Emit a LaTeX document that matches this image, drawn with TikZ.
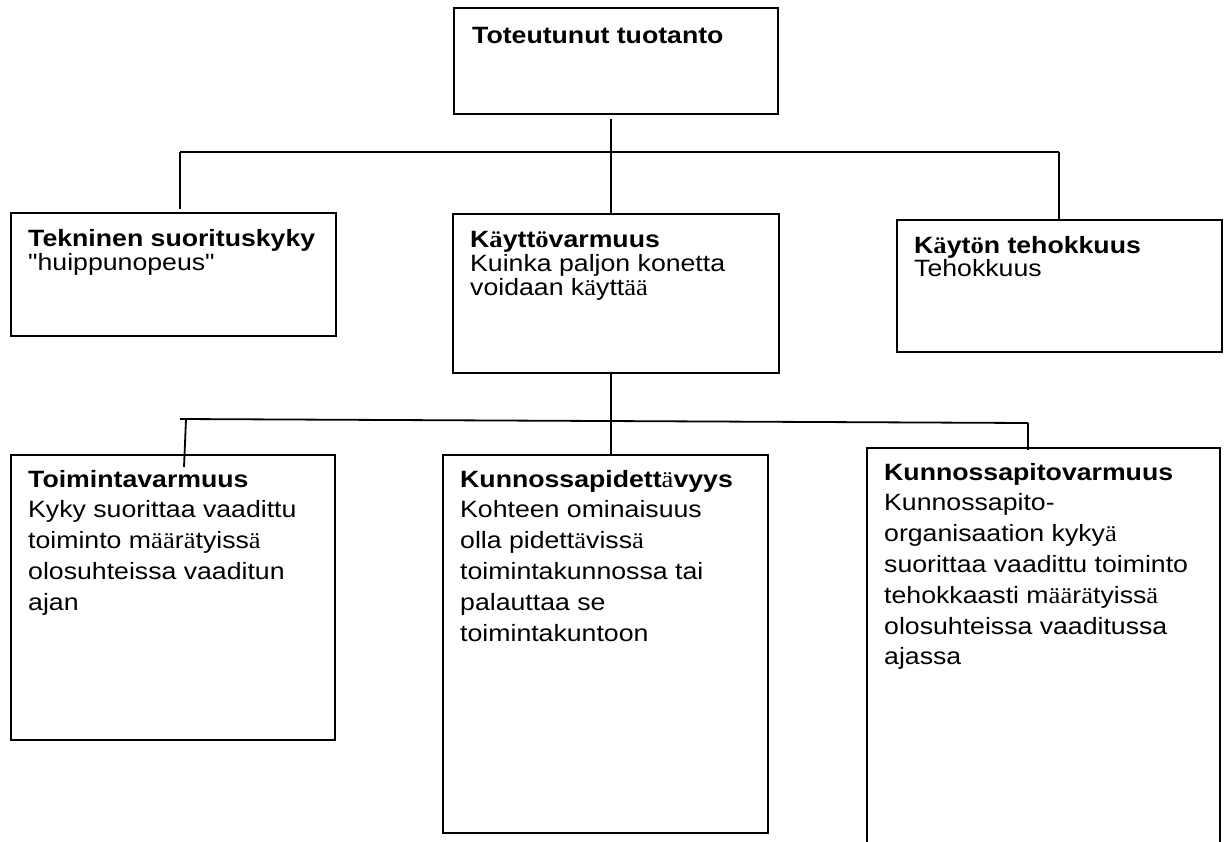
\documentclass[tikz,border=0pt]{standalone}
\usepackage{fontspec}
\setmainfont{Liberation Sans}[Ligatures=TeXOff, FakeStretch=1.13]
\newfontfamily\umlfont{Liberation Serif}[Ligatures=TeXOff, FakeStretch=1.13]
\usetikzlibrary{calc}
% umlaut letters set in the serif face
\newcommand\ua{{\umlfont ä}}
\newcommand\uo{{\umlfont ö}}
\newcommand\uam{{\umlfont\mdseries ä}}
% lines of a box text with a fixed baseline distance; baseline = first line
\newcommand\stacklines[2]{\vtop{\baselineskip=#1\relax\lineskiplimit=-1000pt\lineskip=0pt\halign{##\hfil\cr#2\crcr}}}

\begin{document}
\begin{tikzpicture}[x=1pt,y=-1pt,
  box/.style={draw=black, line width=2.2pt, fill=white, rectangle, inner sep=0pt, anchor=north west},
  txt/.style={inner sep=0pt, anchor=base west, font=\fontsize{23.6}{30}\selectfont},
  link/.style={draw=black, line width=1.8pt}]
\useasboundingbox (0,0) rectangle (1229,841);
\fill[white] (0,0) rectangle (1229,841);
\clip (0,0) rectangle (1229,841);

% boxes
\node[box, minimum width=324pt, minimum height=106pt] (top) at (453,7) {};
\node[box, minimum width=325pt, minimum height=123pt] (tek) at (10,212) {};
\node[box, minimum width=326pt, minimum height=159pt] (kv)  at (452,213) {};
\node[box, minimum width=325pt, minimum height=132pt] (kt)  at (896,219) {};
\node[box, minimum width=324pt, minimum height=285pt] (tv)  at (10,454) {};
\node[box, minimum width=325pt, minimum height=378pt] (kpd) at (442,454) {};
\node[box, minimum width=353pt, minimum height=420pt] (kpv) at (866,447) {};

% texts
\node[txt] (topT) at ($(top.north west)+(19,36)$)
  {\stacklines{24pt}{\bfseries Toteutunut tuotanto}};
\node[txt] (tekT) at ($(tek.north west)+(18,34)$)
  {\stacklines{24pt}{\bfseries Tekninen suorituskyky\cr "huippunopeus"}};
\node[txt] (kvT) at ($(kv.north west)+(18,34)$)
  {\stacklines{24pt}{\bfseries K\ua ytt\uo varmuus\cr Kuinka paljon konetta\cr voidaan k\ua ytt\ua\ua}};
\node[txt] (ktT) at ($(kt.north west)+(18,34)$)
  {\stacklines{23.5pt}{\bfseries K\ua yt\uo n tehokkuus\cr Tehokkuus}};
\node[txt] (tvT) at ($(tv.north west)+(18,33)$)
  {\stacklines{30.8pt}{\bfseries Toimintavarmuus\cr Kyky suorittaa vaadittu\cr toiminto m\ua\ua r\ua tyiss\ua\cr olosuhteissa vaaditun\cr ajan}};
\node[txt] (kpdT) at ($(kpd.north west)+(18,33)$)
  {\stacklines{30.8pt}{\bfseries Kunnossapidett\uam vyys\cr Kohteen ominaisuus\cr olla pidett\ua viss\ua\cr toimintakunnossa tai\cr palauttaa se\cr toimintakuntoon}};
\node[txt] (kpvT) at ($(kpv.north west)+(18,33)$)
  {\stacklines{30.8pt}{\bfseries Kunnossapitovarmuus\cr Kunnossapito-\cr organisaation kyky\ua\cr suorittaa vaadittu toiminto\cr tehokkaasti m\ua\ua r\ua tyiss\ua\cr olosuhteissa vaaditussa\cr ajassa}};

% connector points
\coordinate (cx) at (611,0);
\coordinate (busL) at (180,152);
\coordinate (busR) at (1059,152);
\coordinate (lbusL) at (180,419);
\coordinate (lbusR) at (1028,423);
\coordinate (ldropT) at (186,419.2);
\coordinate (ldropB) at (184,467);

% upper level
\draw[link] ($(cx |- top.south)+(0,4)$) -- (cx |- kv.north);
\draw[link] (busL) -- (busR);
\draw[link] (busL) -- ($(busL |- tek.north)+(0,-3)$);
\draw[link] (busR) -- (busR |- kt.north);

% lower level
\draw[link] (cx |- kv.south) -- (cx |- kpd.north);
\draw[link] (lbusL) -- (lbusR);
\draw[link] (ldropT) -- (ldropB);
\draw[link] (lbusR) -- ($(lbusR |- kpv.north)+(0,3)$);
\end{tikzpicture}
\end{document}
